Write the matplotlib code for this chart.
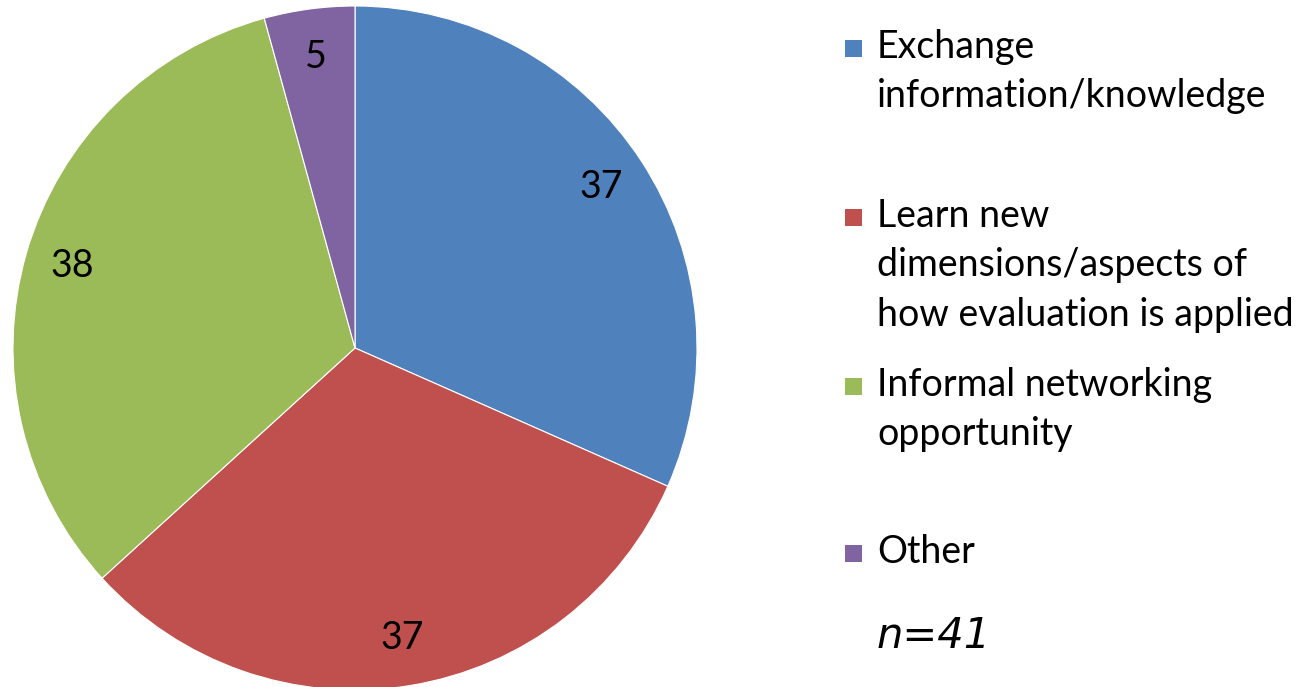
import matplotlib
matplotlib.use("Agg")
import matplotlib.pyplot as plt
from matplotlib.patches import Rectangle

# survey answers (counts shown on the slices)
labels = ["Exchange\ninformation/knowledge",
          "Learn new\ndimensions/aspects of\nhow evaluation is applied",
          "Informal networking\nopportunity",
          "Other"]
values = [37, 37, 38, 5]
colors = ["#4F81BD", "#C0504D", "#9BBB59", "#8064A2"]
n_resp = 41

W, H = 1303, 687
fig = plt.figure(figsize=(W / 100, H / 100), dpi=100)

# pie: centre ~ (355, 348) px, radius ~342 px
cx, cy, r = 355, 348, 342
ax = fig.add_axes([(cx - r) / W, (H - cy - r) / H, 2 * r / W, 2 * r / H])
wedges, texts = ax.pie(values, colors=colors, startangle=90, counterclock=False,
                       labels=[str(v) for v in values], labeldistance=0.86,
                       wedgeprops=dict(edgecolor="white", linewidth=0.8),
                       textprops=dict(fontsize=27, family="Lato"))
for t in texts:
    t.set_horizontalalignment("center")
    t.set_verticalalignment("center")
ax.set_xlim(-1, 1)
ax.set_ylim(-1, 1)
ax.set_aspect("equal")
ax.axis("off")
for w in wedges:
    w.set_clip_on(False)

# hand-placed legend on the right
first_base = [58, 227, 396, 563]
gap = 49.5
for w, lab, y0 in zip(wedges, labels, first_base):
    fig.patches.append(Rectangle((845 / W, (H - y0 + 1) / H), 17 / W, 17 / H,
                                 transform=fig.transFigure,
                                 facecolor=w.get_facecolor(), edgecolor="none"))
    for k, line in enumerate(lab.split("\n")):
        fig.text(877 / W, (H - (y0 + k * gap)) / H, line, fontsize=27,
                 family="Lato", va="baseline", ha="left")

fig.text(877 / W, (H - 648) / H, "n=%d" % n_resp, fontsize=30,
         style="italic", family="DejaVu Sans", va="baseline", ha="left")

fig.savefig("out.png", dpi=100)
